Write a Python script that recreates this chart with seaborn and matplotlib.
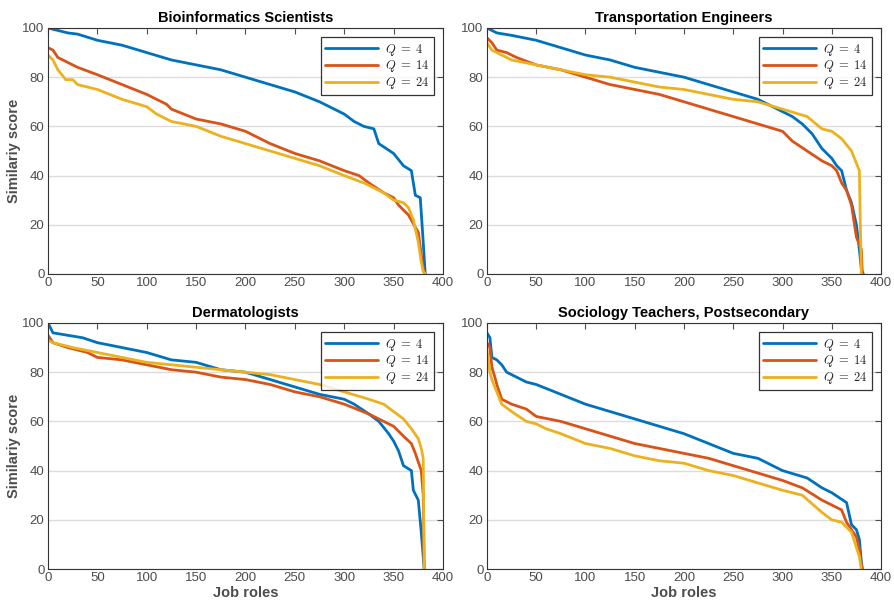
import numpy as np
import pandas as pd
import matplotlib
matplotlib.use("Agg")
import matplotlib.pyplot as plt
import seaborn as sns

titles = ["Bioinformatics Scientists", "Transportation Engineers",
          "Dermatologists", "Sociology Teachers, Postsecondary"]
q_labels = [r"$Q\;=\;4$", r"$Q\;=\;14$", r"$Q\;=\;24$"]
colors = ["#0072BD", "#D95319", "#EDB120"]

# ---- Bioinformatics Scientists ----
bio_q4_x = [0, 10, 20, 30, 50, 75, 100, 125, 150, 175, 200, 225, 250, 275, 300, 310, 320, 330, 335, 350, 360, 368, 372, 377, 380, 382]
bio_q4_y = [100, 99, 98, 97.5, 95, 93, 90, 87, 85, 83, 80, 77, 74, 70, 65, 62, 60, 59, 53, 49, 44, 42, 32, 31, 13, 0]
bio_q14_x = [0, 5, 10, 20, 30, 50, 75, 100, 120, 125, 150, 175, 200, 225, 250, 275, 300, 315, 325, 340, 350, 355, 365, 372, 375, 378, 380, 382]
bio_q14_y = [92, 91, 88, 86, 84, 81, 77, 73, 69, 67, 63, 61, 58, 53, 49, 46, 42, 40, 37, 33, 31, 28, 24, 19, 17, 8, 2, 0]
bio_q24_x = [0, 5, 10, 18, 25, 30, 50, 75, 100, 110, 125, 150, 175, 200, 225, 250, 275, 300, 320, 340, 350, 360, 365, 370, 375, 378, 380, 382]
bio_q24_y = [89, 87, 83, 79, 79, 77, 75, 71, 68, 65, 62, 60, 56, 53, 50, 47, 44, 40, 37, 33, 30, 29, 27, 22, 13, 5, 1, 0]

# ---- Transportation Engineers ----
tra_q4_x = [0, 5, 10, 25, 50, 75, 100, 125, 150, 175, 200, 225, 250, 275, 290, 300, 310, 320, 330, 340, 350, 355, 360, 365, 370, 375, 378, 380, 382]
tra_q4_y = [100, 99, 98, 97, 95, 92, 89, 87, 84, 82, 80, 77, 74, 71, 68, 66, 64, 61, 57, 51, 47, 44, 42, 34, 29, 20, 10, 2, 0]
tra_q14_x = [0, 5, 10, 20, 30, 50, 75, 100, 125, 150, 175, 200, 225, 250, 275, 300, 310, 325, 340, 350, 355, 360, 365, 370, 375, 378, 380, 381]
tra_q14_y = [96, 94, 91, 90, 88, 85, 83, 80, 77, 75, 73, 70, 67, 64, 61, 58, 54, 50, 46, 44, 42, 37, 34, 28, 15, 12, 10, 0]
tra_q24_x = [0, 5, 10, 25, 50, 75, 100, 125, 150, 175, 200, 225, 250, 275, 300, 325, 340, 350, 360, 370, 375, 378, 379, 380]
tra_q24_y = [94, 91, 90, 87, 85, 83, 81, 80, 78, 76, 75, 73, 71, 70, 67, 64, 59, 58, 55, 50, 45, 42, 20, 0]

# ---- Dermatologists ----
der_q4_x = [0, 5, 20, 35, 50, 75, 100, 125, 150, 175, 200, 225, 250, 275, 300, 310, 325, 335, 345, 350, 355, 360, 368, 370, 375, 378, 380, 381]
der_q4_y = [100, 96, 95, 94, 92, 90, 88, 85, 84, 81, 80, 77, 74, 71, 69, 67, 63, 60, 55, 52, 48, 42, 40, 32, 28, 15, 5, 0]
der_q14_x = [0, 5, 20, 40, 50, 75, 100, 125, 150, 175, 200, 225, 250, 275, 300, 325, 340, 350, 360, 368, 372, 378, 380, 381]
der_q14_y = [95, 92, 90, 88, 86, 85, 83, 81, 80, 78, 77, 75, 72, 70, 67, 63, 60, 58, 54, 51, 47, 40, 30, 0]
der_q24_x = [0, 5, 25, 50, 75, 100, 125, 150, 175, 200, 225, 250, 275, 300, 325, 340, 350, 360, 368, 375, 378, 380, 381]
der_q24_y = [93, 92, 90, 88, 86, 84, 83, 82, 81, 80, 79, 77, 75, 72, 69, 67, 64, 61, 57, 53, 49, 45, 0]

# ---- Sociology Teachers, Postsecondary ----
soc_q4_x = [0, 3, 5, 10, 15, 20, 30, 40, 50, 75, 100, 125, 150, 175, 200, 225, 250, 275, 300, 325, 340, 350, 365, 370, 375, 378, 380, 381]
soc_q4_y = [96, 94, 86, 85, 83, 80, 78, 76, 75, 71, 67, 64, 61, 58, 55, 51, 47, 45, 40, 37, 33, 31, 27, 18, 16, 12, 3, 0]
soc_q14_x = [0, 3, 5, 8, 10, 15, 25, 40, 50, 75, 100, 125, 150, 175, 200, 225, 250, 275, 300, 320, 340, 350, 360, 365, 375, 378, 380, 381]
soc_q14_y = [92, 90, 82, 78, 75, 69, 67, 65, 62, 60, 57, 54, 51, 49, 47, 45, 42, 39, 36, 33, 28, 26, 24, 19, 13, 8, 2, 0]
soc_q24_x = [0, 3, 5, 10, 15, 25, 40, 50, 60, 75, 100, 125, 150, 175, 200, 225, 250, 275, 300, 320, 340, 350, 360, 365, 370, 378, 380]
soc_q24_y = [89, 80, 77, 72, 67, 64, 60, 59, 57, 55, 51, 49, 46, 44, 43, 40, 38, 35, 32, 30, 23, 20, 19, 17, 15, 5, 0]

panels = [
    [(bio_q4_x, bio_q4_y), (bio_q14_x, bio_q14_y), (bio_q24_x, bio_q24_y)],
    [(tra_q4_x, tra_q4_y), (tra_q14_x, tra_q14_y), (tra_q24_x, tra_q24_y)],
    [(der_q4_x, der_q4_y), (der_q14_x, der_q14_y), (der_q24_x, der_q24_y)],
    [(soc_q4_x, soc_q4_y), (soc_q14_x, soc_q14_y), (soc_q24_x, soc_q24_y)],
]

sns.set_theme(style="white")
plt.rcParams["font.family"] = ["Liberation Sans", "DejaVu Sans"]
plt.rcParams["mathtext.fontset"] = "cm"

fig = plt.figure(figsize=(8.94, 6.07), dpi=100)
positions = [
    [0.0537, 0.5486, 0.4418, 0.4053],
    [0.5447, 0.5486, 0.4408, 0.4053],
    [0.0537, 0.0626, 0.4418, 0.4053],
    [0.5447, 0.0626, 0.4408, 0.4053],
]

grey = "#4d4d4d"
for i, (title, series) in enumerate(zip(titles, panels)):
    ax = fig.add_axes(positions[i])
    frames = []
    for lab, (xs, ys) in zip(q_labels, series):
        frames.append(pd.DataFrame({"Job roles": xs, "score": ys, "Q": lab}))
    df = pd.concat(frames, ignore_index=True)
    sns.lineplot(data=df, x="Job roles", y="score", hue="Q", palette=colors,
                 estimator=None, sort=False, linewidth=2.0, ax=ax)
    ax.set_xlim(0, 400)
    ax.set_ylim(0, 100)
    ax.set_xticks(np.arange(0, 401, 50))
    ax.set_yticks(np.arange(0, 101, 20))
    ax.yaxis.grid(True, color="#dcdcdc", linewidth=1.0)
    ax.xaxis.grid(False)
    ax.set_axisbelow(True)
    ax.tick_params(direction="in", top=True, right=True, length=4, width=0.8,
                   labelsize=9.5, colors=grey, labelcolor=grey, pad=2.5)
    for sp in ax.spines.values():
        sp.set_color("#333333")
        sp.set_linewidth(0.8)
    ax.set_title(title, fontsize=10.5, fontweight="bold", pad=4, color="black")
    if i % 2 == 0:
        ax.set_ylabel("Similariy score", fontsize=10.5, fontweight="bold", color=grey)
        ax.yaxis.set_label_coords(-0.068, 0.5)
    else:
        ax.set_ylabel("")
    if i >= 2:
        ax.set_xlabel("Job roles", fontsize=10.5, fontweight="bold", color=grey, labelpad=1)
    else:
        ax.set_xlabel("")
    leg = ax.legend(loc="upper right", fontsize=9, frameon=True, fancybox=False,
                    edgecolor="black", handlelength=4.2, borderpad=0.35,
                    labelspacing=0.05, handletextpad=0.6, borderaxespad=0.75)
    leg.get_frame().set_linewidth(0.9)
    for line in leg.get_lines():
        line.set_linewidth(2.0)

fig.savefig("out.png", dpi=100)
